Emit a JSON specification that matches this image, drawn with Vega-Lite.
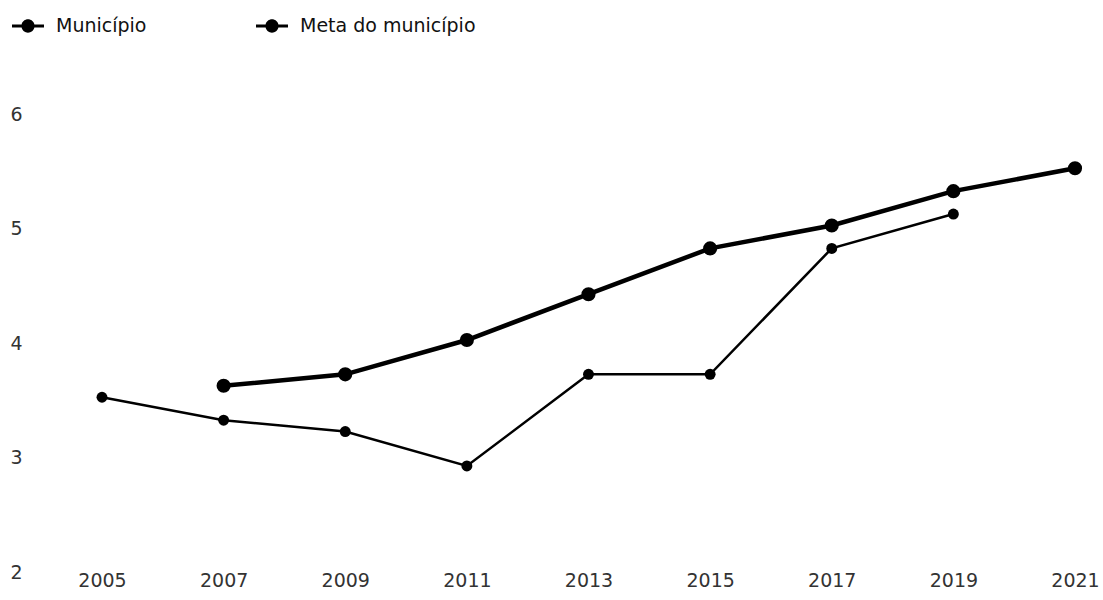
{
  "$schema": "https://vega.github.io/schema/vega-lite/v6.json",
  "width": 973,
  "height": 458,
  "autosize": {"type": "none"},
  "padding": {"left": 102, "top": 111, "right": 28, "bottom": 31},
  "background": "white",
  "config": {
    "view": {"stroke": null},
    "font": "DejaVu Sans"
  },
  "data": {
    "values": [
      {"ano": 2005, "serie": "Município", "valor": 3.5},
      {"ano": 2007, "serie": "Município", "valor": 3.3},
      {"ano": 2009, "serie": "Município", "valor": 3.2},
      {"ano": 2011, "serie": "Município", "valor": 2.9},
      {"ano": 2013, "serie": "Município", "valor": 3.7},
      {"ano": 2015, "serie": "Município", "valor": 3.7},
      {"ano": 2017, "serie": "Município", "valor": 4.8},
      {"ano": 2019, "serie": "Município", "valor": 5.1},
      {"ano": 2007, "serie": "Meta do município", "valor": 3.6},
      {"ano": 2009, "serie": "Meta do município", "valor": 3.7},
      {"ano": 2011, "serie": "Meta do município", "valor": 4.0},
      {"ano": 2013, "serie": "Meta do município", "valor": 4.4},
      {"ano": 2015, "serie": "Meta do município", "valor": 4.8},
      {"ano": 2017, "serie": "Meta do município", "valor": 5.0},
      {"ano": 2019, "serie": "Meta do município", "valor": 5.3},
      {"ano": 2021, "serie": "Meta do município", "valor": 5.5}
    ]
  },
  "encoding": {
    "x": {
      "field": "ano", "type": "quantitative",
      "scale": {"domain": [2005, 2021], "nice": false, "zero": false},
      "axis": {
        "title": null, "values": [2005, 2007, 2009, 2011, 2013, 2015, 2017, 2019, 2021],
        "format": "d", "grid": false, "domain": false, "ticks": false,
        "labelFontSize": 19, "labelColor": "#333", "labelPadding": 2, "labelFlush": false
      }
    },
    "y": {
      "field": "valor", "type": "quantitative",
      "scale": {"domain": [2, 6], "nice": false, "zero": false},
      "axis": {
        "title": null, "values": [2, 3, 4, 5, 6], "grid": false, "domain": false, "ticks": false,
        "labelFontSize": 19, "labelColor": "#333", "labelPadding": 80, "labelAlign": "right", "labelOffset": 3
      }
    },
    "color": {
      "field": "serie", "type": "nominal",
      "scale": {"domain": ["Município", "Meta do município"], "range": ["#000000", "#000000"]},
      "legend": {
        "title": null, "orient": "none", "legendX": -90, "legendY": -101,
        "direction": "horizontal", "columns": 2, "columnPadding": 109,
        "symbolType": "M-1,-0.1 L-0.4,-0.1 A0.41,0.41 0 0 1 0.4,-0.1 L1,-0.1 L1,0.1 L0.4,0.1 A0.41,0.41 0 0 1 -0.4,0.1 L-1,0.1 Z",
        "symbolSize": 1024, "symbolFillColor": "#000", "symbolStrokeWidth": 0,
        "labelFontSize": 19, "labelColor": "#111", "labelOffset": 12, "labelLimit": 300
      }
    }
  },
  "layer": [
    {
      "transform": [{"filter": "datum.serie === 'Meta do município'"}],
      "mark": {"type": "line", "strokeWidth": 4.5},
      "encoding": {}
    },
    {
      "transform": [{"filter": "datum.serie === 'Meta do município'"}],
      "mark": {"type": "point", "filled": true, "opacity": 1, "size": 200},
      "encoding": {}
    },
    {
      "transform": [{"filter": "datum.serie === 'Município'"}],
      "mark": {"type": "line", "strokeWidth": 2.5},
      "encoding": {}
    },
    {
      "transform": [{"filter": "datum.serie === 'Município'"}],
      "mark": {"type": "point", "filled": true, "opacity": 1, "size": 120},
      "encoding": {}
    }
  ]
}
